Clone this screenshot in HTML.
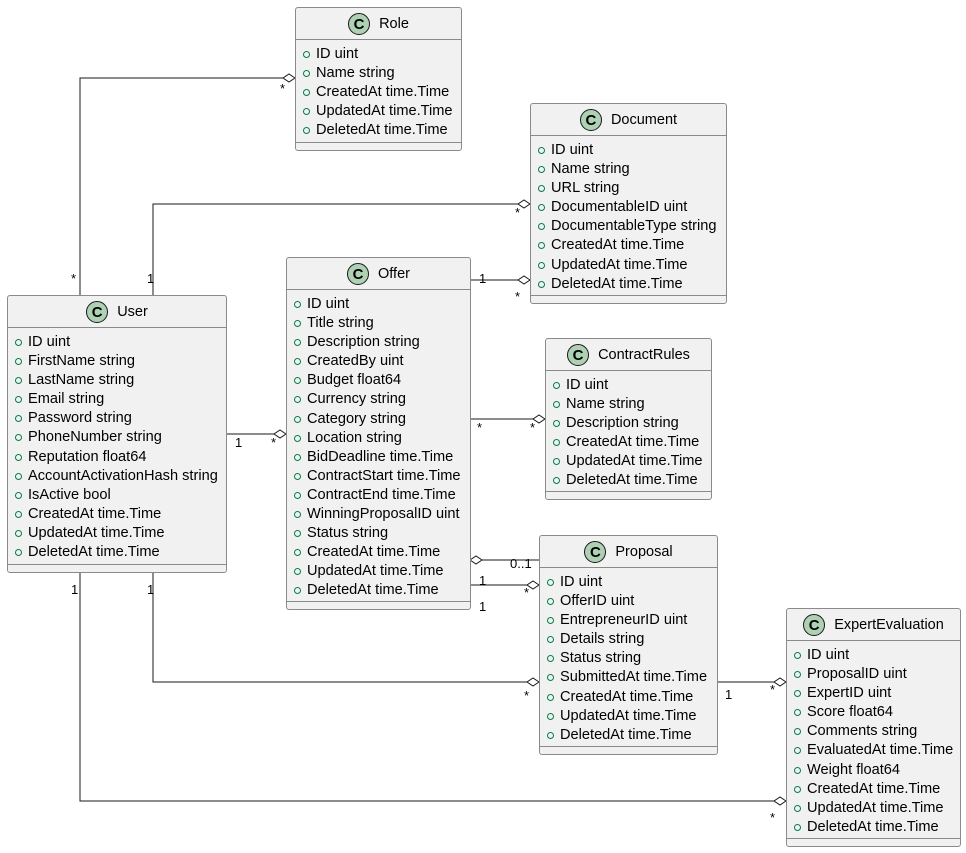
<!DOCTYPE html>
<html><head><meta charset="utf-8"><style>
body{margin:0;width:966px;height:853px;background:#fff;position:relative;overflow:hidden;font-family:"Liberation Sans","DejaVu Sans",sans-serif;}
.b{position:absolute;background:#F1F1F1;border:1px solid #8a8a8a;border-radius:3px;box-sizing:border-box;}
.h{height:32px;border-bottom:1px solid #8a8a8a;display:flex;align-items:center;justify-content:center;font-size:14.5px;color:#000;padding-top:1px;box-sizing:border-box;}
.c{width:22px;height:22px;border-radius:50%;background:#ADD1B2;border:1px solid #181818;box-sizing:border-box;display:flex;align-items:center;justify-content:center;font-weight:bold;font-size:15px;margin-right:9px;}
.r{height:19.1px;line-height:19px;font-size:14.6px;padding-left:20px;position:relative;white-space:nowrap;color:#000;}
.r:before{content:"";position:absolute;left:7px;top:6px;width:5px;height:5px;border:1px solid #038048;border-radius:50%;}
.a{padding-top:5px;}
.s{position:absolute;left:0;right:0;bottom:7px;border-top:1px solid #8a8a8a;}
svg{position:absolute;left:0;top:0;}
</style></head><body>
<svg width="966" height="853" font-family="Liberation Sans, sans-serif" font-size="13">
<g stroke="#181818" fill="none" stroke-width="1">
<polyline points="80,295 80,78 283,78"/>
<polyline points="153,295 153,204 518,204"/>
<line x1="470" y1="280" x2="518" y2="280"/>
<line x1="226" y1="434" x2="274" y2="434"/>
<line x1="470" y1="419" x2="533" y2="419"/>
<line x1="482" y1="560" x2="539" y2="560"/>
<line x1="470" y1="585" x2="527" y2="585"/>
<polyline points="153,572 153,682 527,682"/>
<line x1="717" y1="682" x2="774" y2="682"/>
<polyline points="80,572 80,801 774,801"/>
</g>
<g stroke="#181818" fill="#fff">
<polygon points="295,78 289,74 283,78 289,82"/>
<polygon points="530,204 524,200 518,204 524,208"/>
<polygon points="530,280 524,276 518,280 524,284"/>
<polygon points="286,434 280,430 274,434 280,438"/>
<polygon points="545,419 539,415 533,419 539,423"/>
<polygon points="470,560 476,556 482,560 476,564"/>
<polygon points="539,585 533,581 527,585 533,589"/>
<polygon points="539,682 533,678 527,682 533,686"/>
<polygon points="786,682 780,678 774,682 780,686"/>
<polygon points="786,801 780,797 774,801 780,805"/>
</g>
<g fill="#000">
<text x="71" y="283">*</text><text x="280" y="93">*</text>
<text x="147" y="283">1</text><text x="515" y="217">*</text>
<text x="479" y="283">1</text><text x="515" y="301">*</text>
<text x="235" y="447">1</text><text x="271" y="447">*</text>
<text x="477" y="432">*</text><text x="530" y="432">*</text>
<text x="510" y="568">0..1</text>
<text x="479" y="585">1</text><text x="524" y="597">*</text><text x="479" y="611">1</text>
<text x="147" y="594">1</text><text x="524" y="700">*</text>
<text x="725" y="699">1</text><text x="770" y="694">*</text>
<text x="71" y="594">1</text><text x="770" y="822">*</text>
</g>
</svg>

<div class="b" style="left:295px;top:7px;width:167px;height:144px"><div class="h"><div class="c">C</div>Role</div><div class="a">
<div class="r">ID uint</div><div class="r">Name string</div><div class="r">CreatedAt time.Time</div><div class="r">UpdatedAt time.Time</div><div class="r">DeletedAt time.Time</div></div><div class="s"></div></div>

<div class="b" style="left:530px;top:103px;width:197px;height:201px"><div class="h"><div class="c">C</div>Document</div><div class="a">
<div class="r">ID uint</div><div class="r">Name string</div><div class="r">URL string</div><div class="r">DocumentableID uint</div><div class="r">DocumentableType string</div><div class="r">CreatedAt time.Time</div><div class="r">UpdatedAt time.Time</div><div class="r">DeletedAt time.Time</div></div><div class="s"></div></div>

<div class="b" style="left:286px;top:257px;width:185px;height:353px"><div class="h"><div class="c">C</div>Offer</div><div class="a">
<div class="r">ID uint</div><div class="r">Title string</div><div class="r">Description string</div><div class="r">CreatedBy uint</div><div class="r">Budget float64</div><div class="r">Currency string</div><div class="r">Category string</div><div class="r">Location string</div><div class="r">BidDeadline time.Time</div><div class="r">ContractStart time.Time</div><div class="r">ContractEnd time.Time</div><div class="r">WinningProposalID uint</div><div class="r">Status string</div><div class="r">CreatedAt time.Time</div><div class="r">UpdatedAt time.Time</div><div class="r">DeletedAt time.Time</div></div><div class="s"></div></div>

<div class="b" style="left:7px;top:295px;width:220px;height:278px"><div class="h"><div class="c">C</div>User</div><div class="a">
<div class="r">ID uint</div><div class="r">FirstName string</div><div class="r">LastName string</div><div class="r">Email string</div><div class="r">Password string</div><div class="r">PhoneNumber string</div><div class="r">Reputation float64</div><div class="r">AccountActivationHash string</div><div class="r">IsActive bool</div><div class="r">CreatedAt time.Time</div><div class="r">UpdatedAt time.Time</div><div class="r">DeletedAt time.Time</div></div><div class="s"></div></div>

<div class="b" style="left:545px;top:338px;width:167px;height:162px"><div class="h"><div class="c">C</div>ContractRules</div><div class="a">
<div class="r">ID uint</div><div class="r">Name string</div><div class="r">Description string</div><div class="r">CreatedAt time.Time</div><div class="r">UpdatedAt time.Time</div><div class="r">DeletedAt time.Time</div></div><div class="s"></div></div>

<div class="b" style="left:539px;top:535px;width:179px;height:220px"><div class="h"><div class="c">C</div>Proposal</div><div class="a">
<div class="r">ID uint</div><div class="r">OfferID uint</div><div class="r">EntrepreneurID uint</div><div class="r">Details string</div><div class="r">Status string</div><div class="r">SubmittedAt time.Time</div><div class="r">CreatedAt time.Time</div><div class="r">UpdatedAt time.Time</div><div class="r">DeletedAt time.Time</div></div><div class="s"></div></div>

<div class="b" style="left:786px;top:608px;width:175px;height:239px"><div class="h"><div class="c">C</div>ExpertEvaluation</div><div class="a">
<div class="r">ID uint</div><div class="r">ProposalID uint</div><div class="r">ExpertID uint</div><div class="r">Score float64</div><div class="r">Comments string</div><div class="r">EvaluatedAt time.Time</div><div class="r">Weight float64</div><div class="r">CreatedAt time.Time</div><div class="r">UpdatedAt time.Time</div><div class="r">DeletedAt time.Time</div></div><div class="s"></div></div>
</body></html>
